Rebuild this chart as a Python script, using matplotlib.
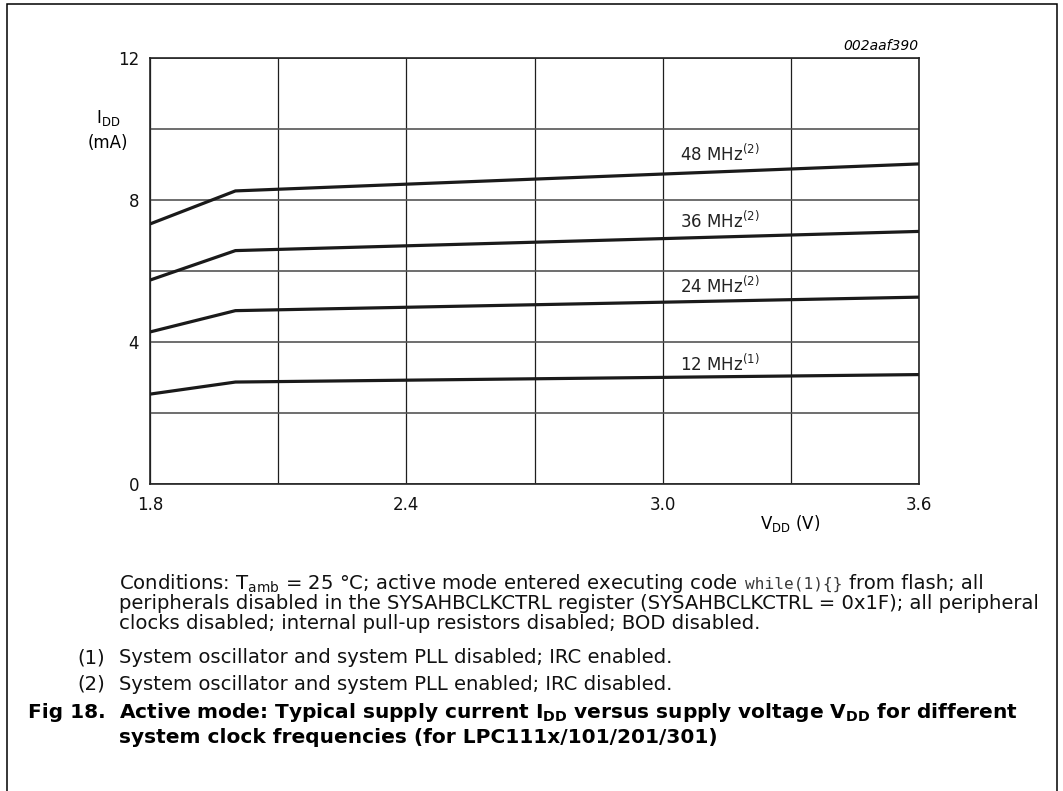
import matplotlib
matplotlib.use("Agg")
import matplotlib.pyplot as plt
from matplotlib.patches import Rectangle

plt.rcParams['font.family'] = ['DejaVu Sans']
plt.rcParams['mathtext.fontset'] = 'custom'
plt.rcParams['mathtext.rm'] = 'DejaVu Sans'
plt.rcParams['mathtext.it'] = 'DejaVu Sans:italic'
plt.rcParams['mathtext.bf'] = 'DejaVu Sans:bold'

# ---- data ----
vdd = [1.8, 2.0, 3.6]
idd_12 = [2.53, 2.87, 3.08]
idd_24 = [4.28, 4.88, 5.26]
idd_36 = [5.74, 6.57, 7.11]
idd_48 = [7.32, 8.25, 9.01]
series = [idd_12, idd_24, idd_36, idd_48]
labels = [r"12 MHz$^{\mathregular{(1)}}$", r"24 MHz$^{\mathregular{(2)}}$",
          r"36 MHz$^{\mathregular{(2)}}$", r"48 MHz$^{\mathregular{(2)}}$"]
label_x = 3.04
label_y = [3.19, 5.37, 7.21, 9.09]
x_ticks = [1.8, 2.4, 3.0, 3.6]
x_ticklabels = ["1.8", "2.4", "3.0", "3.6"]
x_grid = [1.8, 2.1, 2.4, 2.7, 3.0, 3.3, 3.6]
y_ticks = [0, 4, 8, 12]
y_ticklabels = ["0", "4", "8", "12"]
y_grid = [0, 2, 4, 6, 8, 10, 12]

W, H = 1063, 791
fig = plt.figure(figsize=(W / 100, H / 100), dpi=100)
ax = fig.add_axes([150 / W, 1 - 484 / H, (919 - 150) / W, (484 - 57.7) / H])

for xv in x_grid:
    ax.axvline(xv, color='#1e1e1e', lw=0.9, zorder=1)
for yv in y_grid:
    ax.axhline(yv, color='#555555', lw=1.2, zorder=1)

for s in series:
    ax.plot(vdd, s, color='#1a1a1a', lw=2.3, solid_capstyle='butt', zorder=3)
for lab, ly in zip(labels, label_y):
    ax.text(label_x, ly, lab, fontsize=12, ha='left', va='baseline', color='#222222', zorder=4)

ax.set_xlim(1.8, 3.6)
ax.set_ylim(0, 12)
ax.set_xticks(x_ticks)
ax.set_xticklabels(x_ticklabels)
ax.set_yticks(y_ticks)
ax.set_yticklabels(y_ticklabels)
ax.tick_params(axis='both', length=0, labelsize=12, colors='#111111')
ax.tick_params(axis='x', pad=9)
ax.tick_params(axis='y', pad=8)
for sp in ax.spines.values():
    sp.set_color('#222222')
    sp.set_linewidth(1.2)

# axis titles
fig.text(108 / W, 1 - 118 / H, r"I$_{\mathregular{DD}}$", fontsize=12, ha='center', va='center')
fig.text(108 / W, 1 - 143 / H, "(mA)", fontsize=12, ha='center', va='center')
fig.text(790 / W, 1 - 523 / H, r"V$_{\mathregular{DD}}$ (V)", fontsize=12, ha='center', va='center')
fig.text(918 / W, 1 - 46 / H, "002aaf390", fontsize=10, style='italic', ha='right', va='center')

# outer frame
fig.patches.append(Rectangle((7 / W, -0.01), (1057 - 7) / W, (H - 4) / H + 0.01,
                             transform=fig.transFigure, fill=False, lw=1.1, ec='black'))

fig.canvas.draw()
renderer = fig.canvas.get_renderer()


def fit_size(txt, target_px, base=12.0, **kw):
    t = fig.text(0, 0, txt, fontsize=base, **kw)
    w = t.get_window_extent(renderer).width
    t.remove()
    return base * target_px / w


line1a = r"Conditions: T$_{\mathregular{amb}}$ = 25 °C; active mode entered executing code"
line1b = "while(1){}"
line1c = "from flash; all"
line2 = "peripherals disabled in the SYSAHBCLKCTRL register (SYSAHBCLKCTRL = 0x1F); all peripheral"
line3 = "clocks disabled; internal pull-up resistors disabled; BOD disabled."
note1 = "System oscillator and system PLL disabled; IRC enabled."
note2 = "System oscillator and system PLL enabled; IRC disabled."
cap1 = r"Active mode: Typical supply current $\mathbf{I_{DD}}$ versus supply voltage $\mathbf{V_{DD}}$ for different"
cap2 = "system clock frequencies (for LPC111x/101/201/301)"

body_fs = fit_size(line2, 1039 - 119)
cap_fs = fit_size(cap1, 1016 - 119, fontweight='bold')
mono_fs = body_fs * 0.82
fig.canvas.draw()

body = dict(fontsize=body_fs, color='#111111', va='baseline', ha='left')
ta = fig.text(119 / W, 1 - 589 / H, line1a, **body)
xa = 119 + ta.get_window_extent(renderer).width + 7
tb = fig.text(xa / W, 1 - 589 / H, line1b, fontsize=mono_fs, color='#3a3a3a',
              family='DejaVu Sans Mono', va='baseline', ha='left')
xb = xa + tb.get_window_extent(renderer).width + 7
fig.text(xb / W, 1 - 589 / H, line1c, **body)
fig.text(119 / W, 1 - 609 / H, line2, **body)
fig.text(119 / W, 1 - 629 / H, line3, **body)
fig.text(77 / W, 1 - 663 / H, "(1)", **body)
fig.text(119 / W, 1 - 663 / H, note1, **body)
fig.text(77 / W, 1 - 690 / H, "(2)", **body)
fig.text(119 / W, 1 - 690 / H, note2, **body)

cap = dict(fontsize=cap_fs, fontweight='bold', color='black', va='baseline', ha='left')
fig.text(28 / W, 1 - 718 / H, "Fig 18.", **cap)
fig.text(119 / W, 1 - 718 / H, cap1, **cap)
fig.text(119 / W, 1 - 743 / H, cap2, **cap)

fig.savefig("out.png", dpi=100)
